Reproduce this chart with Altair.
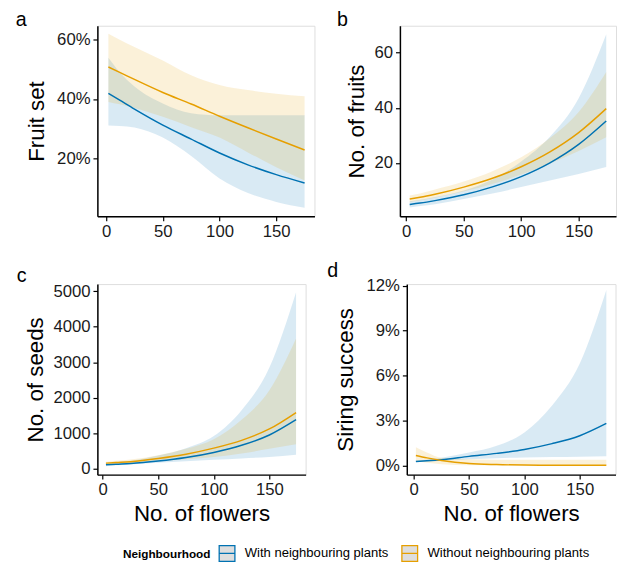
import altair as alt
import pandas as pd

FONT = "Liberation Sans"
GROUPS = ["With neighbouring plants", "Without neighbouring plants"]
COLORS = ["#0072B2", "#E69F00"]
X_TICKS = [0, 50, 100, 150]

# ---- x positions (No. of flowers) ----
FLOWERS_A = [2, 12, 25, 50, 75, 100, 125, 150, 175]
FLOWERS = [3, 12, 25, 50, 75, 100, 125, 150, 174]
FLOWERS_D = [2, 12, 25, 50, 75, 100, 125, 150, 174]

# ---- panel a: Fruit set (%) ----
A_WITH_FIT = [41.9, 39.6, 36.6, 31.2, 26.5, 21.8, 17.8, 14.5, 11.7]
A_WITH_LO = [31.1, 30.9, 30.4, 27.0, 20.8, 13.2, 8.3, 5.3, 3.3]
A_WITH_HI = [53.9, 49.0, 44.2, 38.5, 35.2, 34.5, 34.5, 34.5, 34.5]
A_WITHOUT_FIT = [50.8, 49.0, 46.6, 42.2, 38.3, 34.2, 30.3, 26.5, 22.8]
A_WITHOUT_LO = [39.0, 38.2, 37.0, 34.0, 30.5, 27.0, 22.0, 17.0, 12.5]
A_WITHOUT_HI = [62.0, 60.0, 57.5, 53.0, 48.0, 44.7, 43.0, 41.8, 40.9]

# ---- panel b: No. of fruits ----
B_WITH_FIT = [4.9, 5.4, 6.3, 8.4, 11.3, 15.0, 20.0, 26.7, 35.2]
B_WITH_LO = [3.8, 4.3, 5.0, 6.9, 8.9, 11.2, 13.6, 16.0, 18.5]
B_WITH_HI = [6.1, 6.6, 7.6, 10.0, 14.0, 20.5, 29.5, 43.5, 66.7]
B_WITHOUT_FIT = [6.9, 7.5, 8.6, 11.2, 14.4, 18.6, 24.0, 31.0, 39.7]
B_WITHOUT_LO = [5.7, 6.3, 7.3, 9.6, 12.3, 15.8, 19.8, 24.3, 29.3]
B_WITHOUT_HI = [8.2, 8.9, 10.3, 13.2, 17.0, 22.0, 29.0, 38.5, 53.0]

# ---- panel c: No. of seeds ----
C_WITH_FIT = [110, 125, 145, 215, 315, 460, 660, 950, 1381]
C_WITH_LO = [70, 95, 120, 170, 210, 250, 290, 330, 395]
C_WITH_HI = [160, 185, 225, 370, 580, 920, 1650, 2850, 4972]
C_WITHOUT_FIT = [157, 175, 200, 290, 410, 580, 800, 1120, 1583]
C_WITHOUT_LO = [120, 135, 155, 210, 265, 330, 430, 560, 690]
C_WITHOUT_HI = [200, 225, 260, 380, 560, 830, 1380, 2210, 3666]

# ---- panel d: Siring success (%) ----
D_WITH_FIT = [0.26, 0.30, 0.37, 0.60, 0.80, 1.06, 1.45, 1.98, 2.80]
D_WITH_LO = [0.22, 0.25, 0.30, 0.40, 0.48, 0.52, 0.55, 0.57, 0.60]
D_WITH_HI = [0.30, 0.38, 0.50, 0.85, 1.30, 2.20, 4.00, 6.80, 11.70]
D_WITHOUT_FIT = [0.66, 0.50, 0.33, 0.12, 0.05, 0.02, 0.01, 0.005, 0.003]
D_WITHOUT_LO = [0.28, 0.18, 0.08, 0.01, 0.0, 0.0, 0.0, 0.0, 0.0]
D_WITHOUT_HI = [1.20, 0.85, 0.50, 0.40, 0.38, 0.38, 0.38, 0.38, 0.38]


def make_df(xs, with_fit, with_lo, with_hi, wo_fit, wo_lo, wo_hi):
    rows = []
    for g, fit, lo, hi in [(GROUPS[0], with_fit, with_lo, with_hi),
                           (GROUPS[1], wo_fit, wo_lo, wo_hi)]:
        for x, f, l, h in zip(xs, fit, lo, hi):
            rows.append({"flowers": x, "group": g, "fit": f, "lo": l, "hi": h})
    return pd.DataFrame(rows)


stroke_scale = alt.Scale(domain=GROUPS, range=COLORS)
fill_scale = alt.Scale(range=COLORS)


def panel(df, letter, letter_dx, ytitle, ytitle_x, ydomain, yticks, pct,
          xdomain, width, show_xtitle):
    base = alt.Chart(df)
    xaxis = alt.Axis(
        values=X_TICKS, title="No. of flowers" if show_xtitle else None,
        titleFontSize=22.7, titleFont=FONT, titleFontWeight="normal",
        titleColor="black", titleBaseline="alphabetic", titleY=47,
        labelFontSize=17, labelFont=FONT, labelColor="#1a1a1a",
        labelPadding=3, tickSize=4.5, tickColor="black", tickWidth=1.2,
        domainColor="black", domainWidth=1.5, grid=False, labelFlush=False,
    )
    yaxis = alt.Axis(
        values=yticks, title=ytitle, titleFontSize=22.7, titleFont=FONT,
        titleFontWeight="normal", titleColor="black",
        titleBaseline="alphabetic", titleX=ytitle_x,
        labelFontSize=17, labelFont=FONT, labelColor="#1a1a1a",
        labelPadding=3, tickSize=4.5, tickColor="black", tickWidth=1.2,
        domainColor="black", domainWidth=1.5, grid=False, format="d",
        labelExpr="datum.value + '%'" if pct else "datum.label",
    )
    x = alt.X("flowers:Q", scale=alt.Scale(domain=xdomain, nice=False, zero=False), axis=xaxis)
    yscale = alt.Scale(domain=ydomain, nice=False, zero=False)
    band = base.mark_area(opacity=0.15, interpolate="monotone", clip=True).encode(
        x=x,
        y=alt.Y("lo:Q", scale=yscale, axis=yaxis),
        y2="hi:Q",
        fill=alt.Fill("group:N", scale=fill_scale, legend=None),
    )
    line = base.mark_line(strokeWidth=1.5, interpolate="monotone", clip=True).encode(
        x=x,
        y=alt.Y("fit:Q", scale=yscale, axis=yaxis),
        stroke=alt.Stroke(
            "group:N", scale=stroke_scale,
            legend=alt.Legend(
                title="Neighbourhood", orient="none", legendX=26, legendY=528,
                direction="horizontal", titleOrient="left",
                titleFontSize=12, titleFontWeight="bold", titleFont=FONT,
                titleColor="black", titlePadding=7,
                labelFontSize=13.3, labelFont=FONT, labelColor="black",
                labelOffset=9, columnPadding=10, labelLimit=400,
                symbolType="M-1,-1L1,-1L1,1L-1,1Z M-1,0L1,0",
                symbolSize=256, symbolFillColor="#dedede",
                symbolStrokeWidth=1.3, symbolOpacity=1,
            ),
        ),
    )
    return alt.layer(band, line).properties(
        width=width, height=194,
        title=alt.TitleParams(letter, anchor="start", frame="group", dx=letter_dx,
                              fontSize=20, font=FONT, fontWeight="normal",
                              color="black", offset=-20, baseline="alphabetic"),
    )


pa = panel(make_df(FLOWERS_A, A_WITH_FIT, A_WITH_LO, A_WITH_HI, A_WITHOUT_FIT, A_WITHOUT_LO, A_WITHOUT_HI),
           "a", -83, "Fruit set", -55, [0.45, 64.7], [20, 40, 60], True, [-7.7, 183.7], 221, False)
pb = panel(make_df(FLOWERS, B_WITH_FIT, B_WITH_LO, B_WITH_HI, B_WITHOUT_FIT, B_WITHOUT_LO, B_WITHOUT_HI),
           "b", -64, "No. of fruits", -37.5, [0.6, 69.8], [20, 40, 60], False, [-5.5, 182.5], 220, False)
pc = panel(make_df(FLOWERS, C_WITH_FIT, C_WITH_LO, C_WITH_HI, C_WITHOUT_FIT, C_WITHOUT_LO, C_WITHOUT_HI),
           "c", -82, "No. of seeds", -56, [-166, 5200], [0, 1000, 2000, 3000, 4000, 5000], False, [-4.7, 182.6], 212, True)
pd_ = panel(make_df(FLOWERS_D, D_WITH_FIT, D_WITH_LO, D_WITH_HI, D_WITHOUT_FIT, D_WITHOUT_LO, D_WITHOUT_HI),
            "d", -81, "Siring success", -55.5, [-0.62, 12.1], [0, 3, 6, 9, 12], True, [-6.2, 182.3], 212.5, True)

row1 = alt.hconcat(pa, pb, spacing=21)
row2 = alt.hconcat(pc, pd_, spacing=20)
chart = alt.vconcat(row1, row2, spacing=21).properties(
    padding={"left": 7, "top": -4, "right": 0, "bottom": 0}
).configure_view(stroke=None).configure(font=FONT)

chart.save("out.html", embed_options={"renderer": "svg", "actions": False})
